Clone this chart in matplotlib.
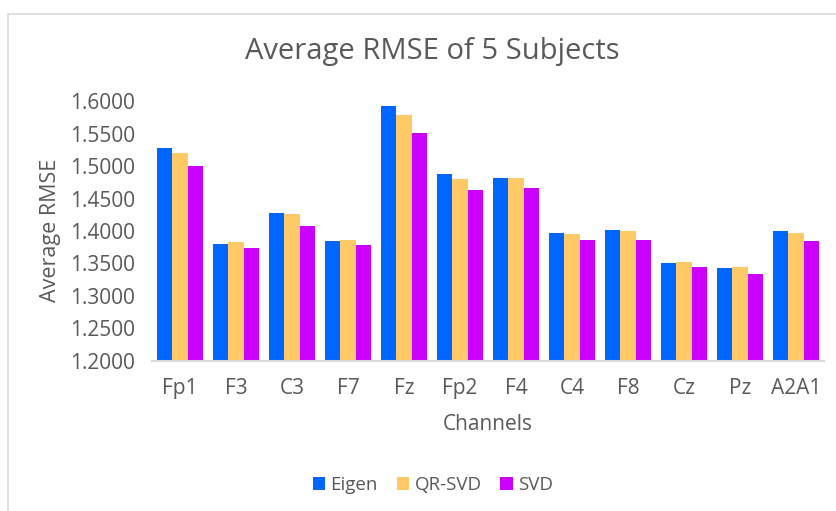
import matplotlib
matplotlib.use("Agg")
import matplotlib.pyplot as plt
from matplotlib.patches import Rectangle
import numpy as np

plt.rcParams['font.family'] = ['Open Sans', 'DejaVu Sans']

channels = ["Fp1", "F3", "C3", "F7", "Fz", "Fp2", "F4", "C4", "F8", "Cz", "Pz", "A2A1"]
eigen  = [1.528, 1.3795, 1.4277, 1.3846, 1.5923, 1.4882, 1.4815, 1.3964, 1.4010, 1.3508, 1.3426, 1.4000]
qrsvd  = [1.5205, 1.3830, 1.4257, 1.3866, 1.5780, 1.4795, 1.4815, 1.3949, 1.3995, 1.3523, 1.3441, 1.3969]
svd    = [1.5000, 1.3740, 1.4077, 1.3785, 1.5512, 1.4630, 1.4660, 1.3857, 1.3867, 1.3441, 1.3338, 1.3841]
series_names = ["Eigen", "QR-SVD", "SVD"]
colors = ["#0066FF", "#FFC966", "#CC00FF"]
yticks = [1.2, 1.25, 1.3, 1.35, 1.4, 1.45, 1.5, 1.55, 1.6]

W, H = 837, 511
fig = plt.figure(figsize=(W/100, H/100), dpi=100)
ax = fig.add_axes([152/W, 1-361/H, (824-152)/W, (361-101)/H])

x = np.arange(len(channels))
w = 0.268
for k, (vals, name, c) in enumerate(zip([eigen, qrsvd, svd], series_names, colors)):
    ax.bar(x + (k-1)*w, np.array(vals) - 1.2, w, bottom=1.2, color=c, label=name)

ax.set_xlim(-0.5, len(channels)-0.5)
ax.set_ylim(1.2, 1.6)
ax.set_yticks(yticks)
ax.set_yticklabels([f"{t:.4f}" for t in yticks])
ax.set_xticks(x)
ax.set_xticklabels(channels)
txtc = "#595959"
ax.tick_params(axis='both', length=0, labelsize=15, colors=txtc)
ax.tick_params(axis='y', pad=12)
ax.tick_params(axis='x', pad=12)
for s in ["top", "right", "left"]:
    ax.spines[s].set_visible(False)
ax.spines["bottom"].set_color("#d9d9d9")
ax.spines["bottom"].set_linewidth(1.5)

ax.set_xlabel("Channels", fontsize=15, color=txtc, labelpad=11)
fig.text(51/W, 1-230/H, "Average RMSE", rotation=90, fontsize=15.5, color=txtc, ha='center', va='center')
fig.text(432/W, 1-52/H, "Average RMSE of 5 Subjects", fontsize=21, color=txtc, ha='center', va='center')

leg = fig.legend(loc='center', bbox_to_anchor=(433/W, 1-485/H), ncol=3, frameon=False,
                 fontsize=13.5, handlelength=0.65, handleheight=0.65, handletextpad=0.3, columnspacing=1.0)
for t in leg.get_texts():
    t.set_color(txtc)

fig.patches.append(Rectangle((8/W, -0.1), 1.2, 1 - 14/H + 0.1, transform=fig.transFigure,
                             fill=False, edgecolor="#d9d9d9", linewidth=1.2))

fig.savefig("out.png", dpi=100)
